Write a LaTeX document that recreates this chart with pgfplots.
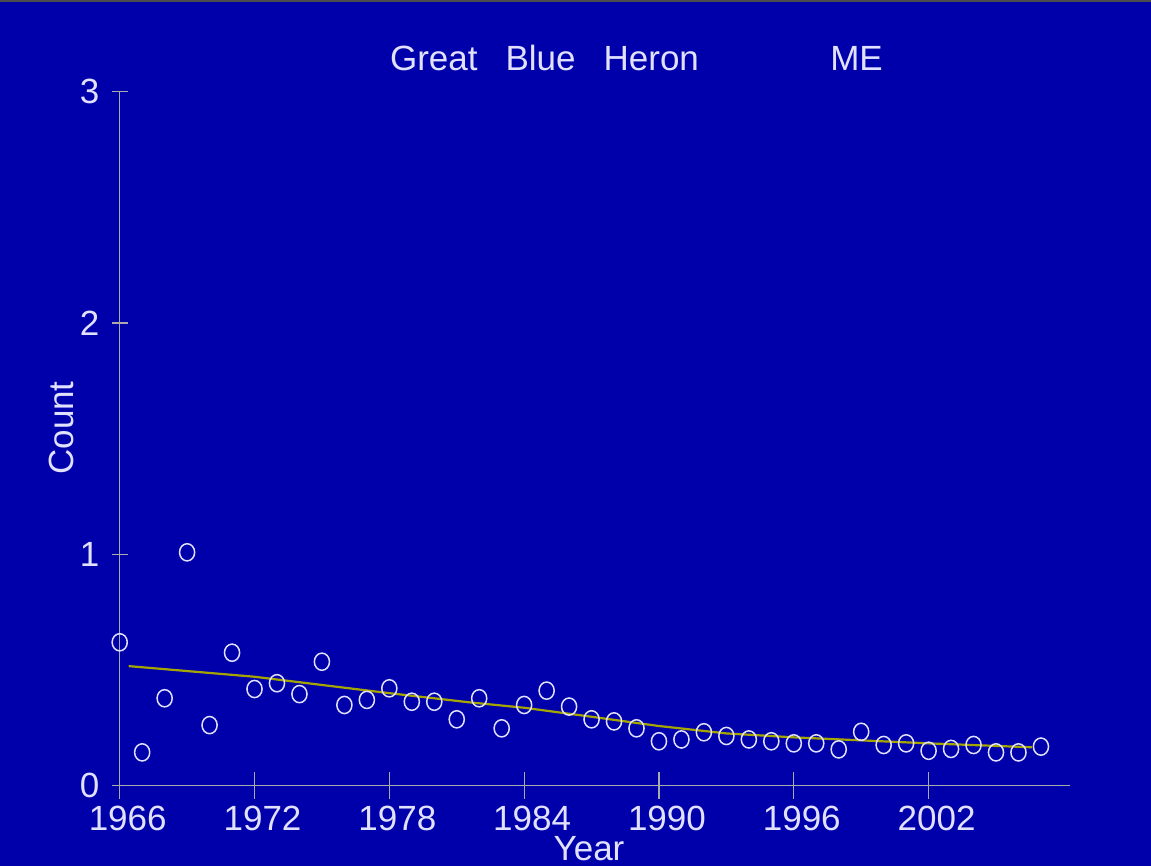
\documentclass[border=0pt]{standalone}
\usepackage{pgfplots}
\pgfplotsset{compat=1.18}
\usepackage{fontspec}
\setmainfont{Liberation Sans}
\definecolor{bg}{RGB}{0,0,170}
\definecolor{axc}{RGB}{170,170,170}
\definecolor{txt}{RGB}{225,225,255}
\definecolor{trend}{RGB}{165,165,0}
\begin{document}
\begin{tikzpicture}
\fill[bg] (0pt,0pt) rectangle (575.5pt,433pt);
\fill[black!70] (0pt,431.8pt) rectangle (575.5pt,433pt);
\begin{axis}[
  at={(59.85pt,40.15pt)}, anchor=south west,
  scale only axis, width=475pt, height=346.95pt,
  xmin=1966, xmax=2008.28, ymin=0, ymax=3,
  clip=false,
  axis line style={draw=none},
  xtick pos=bottom, ytick pos=left,
  xtick={1966,1972,1978,1984,1990,1996,2002},
  ytick={0,1,2,3},
  tick align=center,
  major tick length=13.3pt,
  xtick style={draw=none},
  ytick style={axc, line width=0.6pt, /pgfplots/major tick length=8pt},
  /pgf/number format/assume math mode=true,
  /pgf/number format/1000 sep={},
  ticklabel style={font=\fontsize{17.5}{20}\selectfont, text=txt},
  xticklabel style={xshift=4pt},
]
\draw[axc, line width=0.6pt] (axis cs:1966,3) -- (axis cs:1966,0) -- (axis cs:2008.28,0);
\pgfplotsinvokeforeach{1966,1972,1978,1984,1990,1996,2002}{
  \draw[axc, line width=0.6pt] (axis cs:#1,0) ++(0pt,-6.65pt) -- ++(0pt,13.3pt);
}
\addplot[only marks, mark=o, mark size=4.3pt, mark options={xscale=0.88, draw=txt, line width=0.75pt}] coordinates {
(1966,0.62) (1967,0.144) (1968,0.378) (1969,1.009) (1970,0.262) (1971,0.575)
(1972,0.418) (1973,0.443) (1974,0.396) (1975,0.536) (1976,0.349) (1977,0.371)
(1978,0.421) (1979,0.363) (1980,0.363) (1981,0.287) (1982,0.378) (1983,0.248)
(1984,0.349) (1985,0.411) (1986,0.342) (1987,0.287) (1988,0.278) (1989,0.248)
(1990,0.192) (1991,0.200) (1992,0.231) (1993,0.215) (1994,0.200) (1995,0.192)
(1996,0.183) (1997,0.183) (1998,0.157) (1999,0.233) (2000,0.176) (2001,0.183)
(2002,0.151) (2003,0.159) (2004,0.176) (2005,0.144) (2006,0.144) (2007,0.169)
};
\addplot[trend, line width=1.1pt] coordinates {
(1966.4,0.517) (1972,0.471) (1978,0.40) (1981.6,0.36) (1984,0.337) (1987,0.298)
(1990,0.258) (1993,0.226) (1996,0.209) (1999,0.196) (2002,0.183) (2006.6,0.166)
};
\end{axis}
\node[anchor=base, text=txt, font=\fontsize{17.5}{20}\selectfont] at (272.25pt,397.6pt) {Great\hspace{14pt}Blue\hspace{14pt}Heron};
\node[anchor=base, text=txt, font=\fontsize{17.5}{20}\selectfont] at (428.25pt,397.6pt) {ME};
\node[anchor=base, text=txt, font=\fontsize{17.5}{20}\selectfont] at (294.5pt,2.5pt) {Year};
\node[rotate=90, text=txt, font=\fontsize{17.5}{20}\selectfont] at (30.5pt,219pt) {Count};
\pgfresetboundingbox
\useasboundingbox (0pt,0pt) rectangle (575.5pt,433pt);
\end{tikzpicture}
\end{document}
